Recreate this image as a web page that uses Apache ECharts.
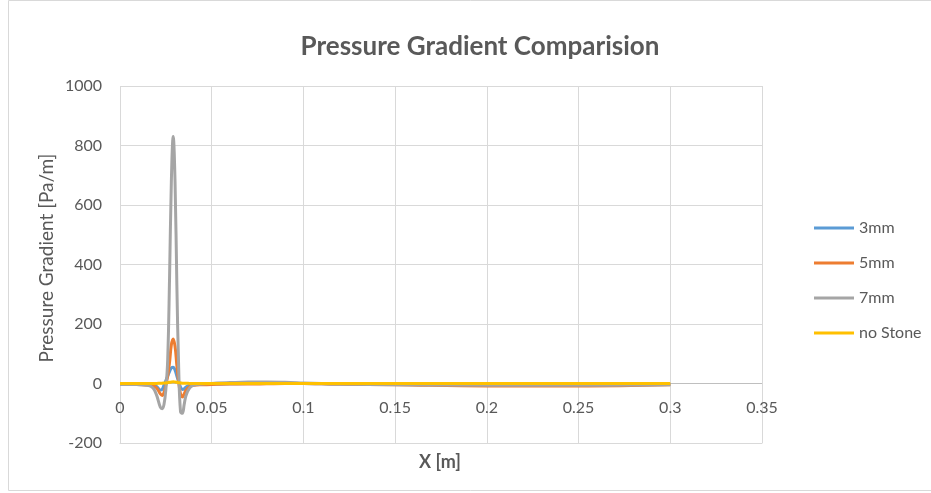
<!DOCTYPE html>
<html><head><meta charset="utf-8">
<script src="https://cdn.jsdelivr.net/npm/echarts@6/dist/echarts.min.js"></script>
<style>html,body{margin:0;padding:0;background:#fff}#c{width:931px;height:493px}</style>
</head><body><div id="c"></div>
<script>
const xs = [0, 0.005, 0.01, 0.015, 0.018, 0.02, 0.022, 0.023, 0.024, 0.025, 0.026, 0.027, 0.028, 0.029, 0.030, 0.031, 0.032, 0.033, 0.034, 0.035, 0.036, 0.038, 0.04, 0.045, 0.05, 0.06, 0.07, 0.08, 0.09, 0.1, 0.11, 0.12, 0.15, 0.2, 0.25, 0.3];
const s3mm = [-3, -3, -3, -4, -6, -10, -22, -20, -5, 10, 25, 40, 52, 55, 45, 25, 5, -12, -20, -18, -12, -6, -4, -3, -2, -1, 0, 0, 0, 0, -1, -2, -3, -5, -5, -3];
const s5mm = [-3, -3, -3, -5, -8, -15, -35, -40, -30, -5, 25, 70, 130, 150, 125, 60, 5, -35, -45, -35, -22, -10, -6, -4, -3, -2, -2, -1, 0, 0, -1, -2, -4, -8, -8, -4];
const s7mm = [-3, -3, -4, -6, -15, -40, -80, -85, -70, -20, 80, 350, 680, 830, 680, 330, 50, -95, -100, -70, -40, -15, -6, -2, 0, 3, 5, 5, 4, 2, 0, -2, -4, -6, -6, -4];
const sNone = [0, 0, 0, 0, 0, 0, 1, 1, 2, 2, 3, 4, 5, 6, 5, 4, 3, 2, 1, 1, 1, 0, 0, 0, 0, 0, 0, 0, 0, 0, 0, 0, 0, 0, 0, 0];
const names = ['3mm', '5mm', '7mm', 'no Stone'];
const colors = ['#5B9BD5', '#ED7D31', '#A5A5A5', '#FFC000'];
const ys = [s3mm, s5mm, s7mm, sNone];

const font = 'Lato, "Open Sans", sans-serif';
const chart = echarts.init(document.getElementById('c'));
chart.setOption({
  animation: false,
  textStyle: { fontFamily: font },
  title: { text: 'Pressure Gradient Comparision', left: 475, top: 29, textAlign: 'center',
    textStyle: { fontSize: 26, fontWeight: 'bold', color: '#595959', fontFamily: font } },
  legend: { orient: 'vertical', left: 809, top: 215, itemWidth: 40, itemHeight: 16, itemGap: 19,
    icon: 'path://M0,7 L40,7 L40,9.8 L0,9.8 Z',
    textStyle: { fontSize: 16, color: '#595959', fontFamily: font }, data: names },
  grid: { left: 120, right: 169, top: 86, bottom: 50 },
  xAxis: { type: 'value', min: 0, max: 0.35, interval: 0.05,
    axisLine: { onZero: false, lineStyle: { color: '#D9D9D9', width: 1 } },
    axisTick: { show: false },
    axisLabel: { fontSize: 16, color: '#595959', margin: -43, formatter: v => String(+v.toFixed(2)) },
    splitLine: { show: true, lineStyle: { color: '#D9D9D9' } } },
  yAxis: { type: 'value', min: -200, max: 1000, interval: 200,
    axisLine: { show: false }, axisTick: { show: false },
    axisLabel: { fontSize: 16, color: '#595959', margin: 18, formatter: v => String(v) },
    splitLine: { lineStyle: { color: '#D9D9D9' } } },
  graphic: [
    { type: 'rect', silent: true, shape: { x: 8.5, y: 0.5, width: 930, height: 490 }, style: { fill: 'none', stroke: '#D9D9D9', lineWidth: 1 } },
    { type: 'line', silent: true, z: 1, shape: { x1: 120, y1: 383.5, x2: 762, y2: 383.5 }, style: { stroke: '#BFBFBF', lineWidth: 1 } },
    { type: 'text', silent: true, x: 440, y: 462, style: { text: 'X [m]', font: 'bold 18px ' + font, fill: '#595959', align: 'center', verticalAlign: 'middle' } },
    { type: 'text', silent: true, x: 47, y: 258, rotation: Math.PI / 2, style: { text: 'Pressure Gradient [Pa/m]', font: '19px ' + font, fill: '#595959', align: 'center', verticalAlign: 'middle' } }
  ],
  series: ys.map((d, i) => ({
    name: names[i], type: 'line', smooth: 0.4, showSymbol: false, z: 3,
    lineStyle: { width: 3, color: colors[i] }, itemStyle: { color: colors[i] },
    data: xs.map((x, j) => [x, d[j]])
  }))
});
</script></body></html>
